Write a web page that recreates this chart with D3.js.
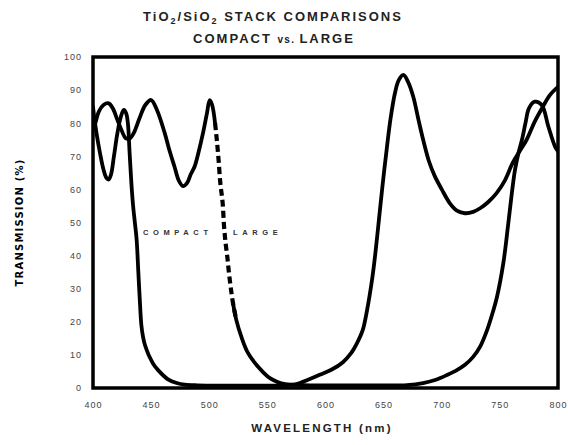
<!DOCTYPE html>
<html>
<head>
<meta charset="utf-8">
<script src="https://cdn.jsdelivr.net/npm/d3@7"></script>
<style>
  html, body { margin: 0; padding: 0; background: #fff; }
  svg { display: block; }
</style>
</head>
<body>
<div id="chart"></div>
<script>
// Transmission spectra of two TiO2/SiO2 stacks
const xTicks = [400, 450, 500, 550, 600, 650, 700, 750, 800];
const yTicks = [0, 10, 20, 30, 40, 50, 60, 70, 80, 90, 100];

const compactNm = [400,401,403,406,409,411.5,413.5,415.5,418,421,424,426.5,428.5,430,431.5,433,434.5,436,437.5,439,440.2,441.6,443,444.5,446.5,448.5,452,456,464.5,472,479,490,510,530,550,565,572,578,585,595,605,615,622,627,632,636,640,643,646,649,652.6,656,660,663,667,671,675.5,680,684,689,694,700,707,713,720,727,733,740,747,754,761,767,773,780,787,793,800];
const compactT  = [85,82,77,71,66,63.5,63,64.5,70,77,82,84,83,80,71,62,55,50,45,35,27,19,15.5,13.2,11.2,9.5,7.2,5.4,2.6,1.5,1.0,0.8,0.7,0.7,0.7,0.8,1.0,1.5,2.5,4,5.5,7.8,10.5,13.5,17.5,24,32.6,41,51,61,72,81.5,89.5,93,94.6,92.5,88,81,75,68.5,64,60,55.8,53.6,52.8,53.2,54.3,56.2,58.8,62.5,68,71.5,75,80.5,85,88.5,91];

const largeNm = [400,402,405,409,413.5,417,421,425,428,431.6,435,440,445,450,455,461.7,466,470,474,477.4,481,484,487.5,491,494.6,498,500.4,502.5,505,506.5,508,509.5,511.5,512.7,514,515.5,516.7,518.4,520.4,523.3,527.6,533.3,542,550.5,555,562,570,590,620,650,670,684,695,705,713,720,727,733,739,744,747.5,753,757,760,763,766,769,772,775,780,786,791.7,797.4,800];
const largeT  = [78,80,83.5,85.5,86,84.5,81,77.5,75.5,75.4,77,81.5,85.5,87,84,77,71.5,67,62.5,61,62,64.5,67,71.5,77,83,87,85.5,80,75,69,62,56,49,44,39.7,35.6,30.6,25.7,20.5,15.5,10.6,6.4,3.4,2.4,1.4,1.0,0.8,0.8,0.8,0.9,1.5,2.5,4,5.4,7,9.4,12.5,17.5,23,27.5,37.8,49,58,65.9,71,75,80,84.5,86.5,85.5,79,73,71.5];

const W = 568, H = 445;
const margin = { left: 93, right: 10, top: 57, bottom: 57 };

const svg = d3.select("#chart").append("svg")
  .attr("width", W).attr("height", H);

const x = d3.scaleLinear().domain([400, 800]).range([margin.left, W - margin.right]);
const y = d3.scaleLinear().domain([0, 100]).range([H - margin.bottom, margin.top]);

const plotW = x(800) - x(400), plotH = y(0) - y(100);

// Title
const title = svg.append("g").attr("font-family", "'Liberation Sans Narrow','Arial Narrow','Liberation Sans',Arial,sans-serif")
  .attr("font-weight", "bold").attr("fill", "#222").attr("text-anchor", "middle");
const t1 = title.append("text").attr("x", 273).attr("y", 20.5)
  .attr("font-size", 13).attr("letter-spacing", 2);
t1.append("tspan").text("TiO");
t1.append("tspan").attr("dy", 3).attr("font-size", 9).text("2");
t1.append("tspan").attr("dy", -3).text("/SiO");
t1.append("tspan").attr("dy", 3).attr("font-size", 9).text("2");
t1.append("tspan").attr("dy", -3).text(" STACK COMPARISONS");
const t2 = title.append("text").attr("x", 274).attr("y", 42.5)
  .attr("font-size", 13).attr("letter-spacing", 2);
t2.append("tspan").text("COMPACT ");
t2.append("tspan").attr("font-size", 10).attr("letter-spacing", 1.3).text("vs. ");
t2.append("tspan").text("LARGE");

// Axes (labels only, frame drawn separately)
const xAxis = svg.append("g")
  .attr("transform", `translate(0,${y(0) + 14})`)
  .call(d3.axisBottom(x).tickValues(xTicks).tickSize(0).tickPadding(0).tickFormat(d3.format("d")));
xAxis.select(".domain").remove();
xAxis.selectAll("text")
  .attr("font-family", "'Liberation Sans',Arial,sans-serif")
  .attr("font-size", 9).attr("letter-spacing", 1).attr("fill", "#444").attr("dy", "0.7em");

const yAxis = svg.append("g")
  .attr("transform", `translate(${x(400) - 11},0)`)
  .call(d3.axisLeft(y).tickValues(yTicks).tickSize(0).tickPadding(0).tickFormat(d3.format("d")));
yAxis.select(".domain").remove();
yAxis.selectAll("text")
  .attr("font-family", "'Liberation Sans',Arial,sans-serif")
  .attr("font-size", 9).attr("letter-spacing", 1).attr("fill", "#444");

// Axis titles
svg.append("text")
  .attr("x", 322).attr("y", 432)
  .attr("text-anchor", "middle")
  .attr("font-family", "'Liberation Sans Narrow','Arial Narrow','Liberation Sans',Arial,sans-serif")
  .attr("font-weight", "bold").attr("font-size", 11.5).attr("letter-spacing", 2.2).attr("fill", "#222")
  .text("WAVELENGTH (nm)");

svg.append("text")
  .attr("transform", `translate(23,${(y(0) + y(100)) / 2}) rotate(-90)`)
  .attr("text-anchor", "middle")
  .attr("font-family", "'DejaVu Sans',sans-serif")
  .attr("font-weight", "900").attr("font-size", 10).attr("letter-spacing", 1.2).attr("fill", "#000")
  .text("TRANSMISSION (%)");

// Curves
svg.append("clipPath").attr("id", "plotClip")
  .append("rect").attr("x", x(400)).attr("y", y(100)).attr("width", plotW).attr("height", plotH);

const line = d3.line()
  .x(d => x(d[0])).y(d => y(d[1]))
  .curve(d3.curveCatmullRom.alpha(0.5));

const compact = d3.zip(compactNm, compactT);
const large = d3.zip(largeNm, largeT);

const curves = svg.append("g").attr("clip-path", "url(#plotClip)")
  .attr("fill", "none").attr("stroke", "#000").attr("stroke-width", 3.8)
  .attr("stroke-linejoin", "round").attr("stroke-linecap", "round");

curves.append("path").attr("d", line(compact));

// LARGE: solid except for the steep fall after the 500 nm peak
const dashFrom = 505, dashTo = 527, solidFrom = 520;
curves.append("path").attr("d", line(large.filter(d => d[0] <= dashFrom)));
curves.append("path").attr("d", line(large.filter(d => d[0] >= dashFrom && d[0] <= dashTo)))
  .attr("stroke-dasharray", "7,4").attr("stroke-linecap", "butt").attr("stroke-width", 4.2);
curves.append("path").attr("d", line(large.filter(d => d[0] >= solidFrom)));

// Frame
svg.append("rect")
  .attr("x", x(400)).attr("y", y(100)).attr("width", plotW).attr("height", plotH)
  .attr("fill", "none").attr("stroke", "#000").attr("stroke-width", 3.5);

// Series labels
const lab = svg.append("g")
  .attr("font-family", "'Liberation Sans',Arial,sans-serif")
  .attr("font-weight", "bold").attr("font-size", 7.5).attr("letter-spacing", 4.6).attr("fill", "#333");
lab.append("text").attr("x", 143).attr("y", 235).text("COMPACT");
lab.append("text").attr("x", 233).attr("y", 235).text("LARGE");
</script>
</body>
</html>
